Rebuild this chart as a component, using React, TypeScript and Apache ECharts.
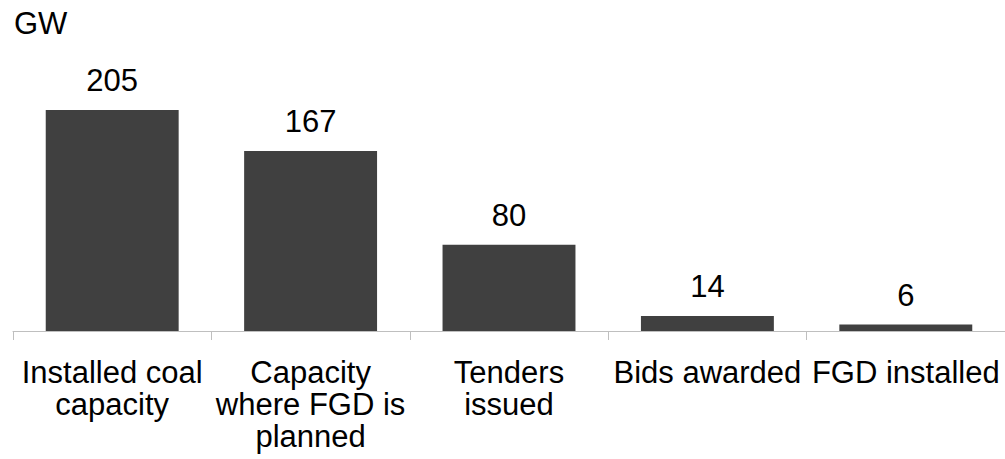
import React, { useEffect, useRef } from "react";
import * as echarts from "echarts";

const categories = [
  "Installed coal\ncapacity",
  "Capacity\nwhere FGD is\nplanned",
  "Tenders\nissued",
  "Bids awarded",
  "FGD installed",
];
const values = [205, 167, 80, 14, 6];
const unitLabel = "GW";

const FONT = "'Liberation Sans', Arial, sans-serif";

export default function App() {
  const ref = useRef<HTMLDivElement>(null);
  useEffect(() => {
    if (!ref.current) return;
    const chart = echarts.init(ref.current, undefined, { renderer: "svg" });
    chart.setOption({
      animation: false,
      backgroundColor: "#ffffff",
      title: {
        text: unitLabel,
        left: 14,
        top: 8,
        padding: 0,
        textStyle: { fontFamily: FONT, fontSize: 31, fontWeight: "normal", color: "#000000" },
      },
      grid: { left: 13, right: 0, top: 110, bottom: 128, containLabel: false },
      xAxis: {
        type: "category",
        data: categories,
        boundaryGap: true,
        axisLine: { show: true, lineStyle: { color: "#bfbfbf", width: 1 } },
        axisTick: { show: true, length: 9, lineStyle: { color: "#bfbfbf" } },
        axisLabel: {
          interval: 0,
          margin: 25,
          fontFamily: FONT,
          fontSize: 31,
          lineHeight: 32,
          color: "#000000",
        },
      },
      yAxis: {
        type: "value",
        min: 0,
        max: 205,
        show: false,
        splitLine: { show: false },
      },
      series: [
        {
          type: "bar",
          data: values,
          barCategoryGap: "33%",
          itemStyle: { color: "#404040" },
          label: {
            show: true,
            position: "top",
            distance: 14,
            fontFamily: FONT,
            fontSize: 31,
            color: "#000000",
          },
        },
      ],
    });
    return () => chart.dispose();
  }, []);
  return (
    <div
      ref={ref}
      style={{ position: "fixed", left: 0, top: 0, width: 1005, height: 459, background: "#fff" }}
    />
  );
}
